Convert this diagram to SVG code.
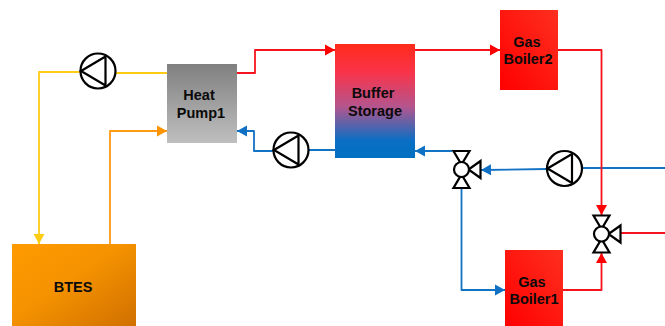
<svg xmlns="http://www.w3.org/2000/svg" width="665" height="326" viewBox="0 0 665 326">
<style>
text{font-family:"Liberation Sans",Arial,sans-serif;font-size:14.5px;font-weight:bold;fill:#0a0a0a;text-anchor:middle}
.c{fill:none;stroke-width:1.8;stroke-linejoin:round}
.r{stroke:#f5141e}.b{stroke:#1272c4}.y{stroke:#ffcc14}.o{stroke:#ff9a14}
.s{fill:#fff;stroke:#000;stroke-width:2.2;stroke-linejoin:miter}
.t{fill:none;stroke:#000;stroke-width:2.2}
</style>
<defs>
<linearGradient id="gh" x1="0" y1="0" x2="0" y2="1"><stop offset="0" stop-color="#808080"/><stop offset="1" stop-color="#bfbfbf"/></linearGradient>
<linearGradient id="gb" x1="0" y1="0" x2="0" y2="1"><stop offset="0" stop-color="#ff2a1a"/><stop offset=".25" stop-color="#f9344a"/><stop offset=".55" stop-color="#b4558e"/><stop offset=".85" stop-color="#0a6fc4"/><stop offset="1" stop-color="#0070c0"/></linearGradient>
<linearGradient id="gr2" x1="1" y1="0" x2="0" y2="1"><stop offset="0" stop-color="#ff2f1f"/><stop offset="1" stop-color="#ff0000"/></linearGradient>
<linearGradient id="gr1" x1="0" y1="1" x2="1" y2="0"><stop offset="0" stop-color="#ff0000"/><stop offset="1" stop-color="#ff2f1f"/></linearGradient>
<linearGradient id="go" x1="0" y1="0" x2="1" y2="1"><stop offset="0" stop-color="#ff9a00"/><stop offset=".45" stop-color="#f59200"/><stop offset="1" stop-color="#d07000"/></linearGradient>
<marker id="mr" markerUnits="userSpaceOnUse" markerWidth="11" markerHeight="12" refX="10" refY="6" orient="auto"><path d="M0,0.5L10,6L0,11.5z" fill="#ff0000"/></marker>
<marker id="mb" markerUnits="userSpaceOnUse" markerWidth="11" markerHeight="12" refX="10" refY="6" orient="auto"><path d="M0,0.5L10,6L0,11.5z" fill="#0f70c4"/></marker>
<marker id="my" markerUnits="userSpaceOnUse" markerWidth="11" markerHeight="12" refX="10" refY="6" orient="auto"><path d="M0,0.5L10,6L0,11.5z" fill="#ffcc14"/></marker>
<marker id="mo" markerUnits="userSpaceOnUse" markerWidth="11" markerHeight="12" refX="10" refY="6" orient="auto"><path d="M0,0.5L10,6L0,11.5z" fill="#ff9400"/></marker>
<g id="pump"><circle r="17.5" class="s"/><path d="M-17,0L7.5,-14.5L7.5,14.5z" class="t"/></g>
<g id="valve"><path d="M-8,-18.5H8L0,-5z" class="s"/><path d="M-8,18.5H8L0,5z" class="s"/><path d="M19,-8.5V8.5L7,0z" class="s"/><circle r="7.5" class="s"/></g>
</defs>
<g id="connectors">
<path class="c y" d="M167,73H115M81,72H39V244" marker-end="url(#my)"/>
<path class="c o" d="M110,244V131H167" marker-end="url(#mo)"/>
<path class="c r" d="M237,73H255V50H335" marker-end="url(#mr)"/>
<path class="c r" d="M415,50L500,50" marker-end="url(#mr)"/>
<path class="c b" d="M335,150H308M274,151H254V131H237" marker-end="url(#mb)"/>
<path class="c b" d="M452,151H415" marker-end="url(#mb)"/>
<path class="c b" d="M665,168H582M547,169L481,170" marker-end="url(#mb)"/>
<path class="c b" d="M461.5,188V290H505" marker-end="url(#mb)"/>
<path class="c r" d="M558,50H601.5V215" marker-end="url(#mr)"/>
<path class="c r" d="M563,290H601.5V253" marker-end="url(#mr)"/>
<path class="c r" d="M665,233H620"/>
</g>
<g id="heat-pump"><rect x="167" y="64" width="70" height="79" fill="url(#gh)"/><text x="199" y="100">Heat</text><text x="201" y="118">Pump1</text></g>
<g id="btes"><rect x="12" y="244" width="124" height="82" fill="url(#go)"/><text x="73" y="292">BTES</text></g>
<g id="buffer-storage"><rect x="335" y="44" width="80" height="114" fill="url(#gb)"/><text x="373" y="98">Buffer</text><text x="375" y="116">Storage</text></g>
<g id="gas-boiler2"><rect x="500" y="10" width="58" height="80" fill="url(#gr2)"/><text x="527" y="47">Gas</text><text x="528" y="64">Boiler2</text></g>
<g id="gas-boiler1"><rect x="505" y="250" width="58" height="76" fill="url(#gr1)"/><text x="532" y="287">Gas</text><text x="534" y="304">Boiler1</text></g>
<g id="pump1"><use href="#pump" x="98" y="71"/></g>
<g id="pump2"><use href="#pump" x="291" y="150"/></g>
<g id="pump3"><use href="#pump" x="564.5" y="168.5"/></g>
<g id="valve1"><use href="#valve" x="461.5" y="169.5"/></g>
<g id="valve2"><use href="#valve" x="601.5" y="234"/></g>
</svg>
